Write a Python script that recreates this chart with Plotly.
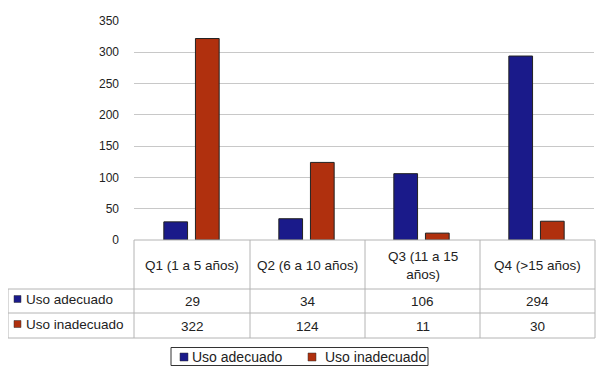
import plotly.graph_objects as go

categories = ["Q1", "Q2", "Q3", "Q4"]
header_labels = ["Q1 (1 a 5 años)", "Q2 (6 a 10 años)", "Q3 (11 a 15<br>años)", "Q4 (>15 años)"]
series_names = ["Uso adecuado", "Uso inadecuado"]
uso_adecuado = [29, 34, 106, 294]
uso_inadecuado = [322, 124, 11, 30]
y_ticks = [0, 50, 100, 150, 200, 250, 300, 350]

BLUE = "#1a1a8a"
RED = "#b0300e"
FONT = "Liberation Sans, Arial, sans-serif"

OFF = 8  # default body margin of the page
W, H = 608 - 2 * OFF, 375 - 2 * OFF
L, R, T, B = 134, 594, 21, 240  # plot area in reference pixels


def px(x):
    return (x - L) / (R - L)


def py(y):
    return (B - y) / (B - T)


fig = go.Figure()
for name, vals, col in [(series_names[0], uso_adecuado, BLUE), (series_names[1], uso_inadecuado, RED)]:
    fig.add_trace(go.Bar(x=categories, y=vals, name=name,
                         marker=dict(color=col, line=dict(color="#222222", width=1)),
                         showlegend=False))

shapes = []
annots = []
line = dict(color="#b4b4b4", width=1)
shapes.append(dict(type="line", xref="paper", yref="paper", x0=px(134), x1=px(595), y0=py(240), y1=py(240), line=line))
for yy in [289, 313, 338]:
    shapes.append(dict(type="line", xref="paper", yref="paper", x0=px(8), x1=px(595), y0=py(yy), y1=py(yy), line=line))
shapes.append(dict(type="line", xref="paper", yref="paper", x0=px(8), x1=px(8), y0=py(289), y1=py(338), line=line))
col_edges = [134, 250, 365, 480, 595]
for xx in col_edges:
    shapes.append(dict(type="line", xref="paper", yref="paper", x0=px(xx), x1=px(xx), y0=py(240), y1=py(338), line=line))

TFS = 13.5
for i, lab in enumerate(header_labels):
    cx = (col_edges[i] + col_edges[i + 1]) / 2
    annots.append(dict(x=px(cx), y=py(265), xref="paper", yref="paper", text=lab, showarrow=False,
                       font=dict(family=FONT, size=TFS, color="#222222"), xanchor="center", yanchor="middle"))
    for vals, yy in [(uso_adecuado, 301), (uso_inadecuado, 326)]:
        annots.append(dict(x=px(cx), y=py(yy), xref="paper", yref="paper", text=str(vals[i]), showarrow=False,
                           font=dict(family=FONT, size=TFS, color="#222222"), xanchor="center", yanchor="middle"))

for name, col, yy in [(series_names[0], BLUE, 299), (series_names[1], RED, 324)]:
    shapes.append(dict(type="rect", xref="paper", yref="paper", x0=px(14), x1=px(21), y0=py(yy - 3.5), y1=py(yy + 3.5),
                       fillcolor=col, line=dict(color="#333333", width=0.5)))
    annots.append(dict(x=px(24), y=py(yy), xref="paper", yref="paper", text=name, showarrow=False,
                       font=dict(family=FONT, size=TFS, color="#222222"), xanchor="left", yanchor="middle"))

shapes.append(dict(type="rect", xref="paper", yref="paper", x0=px(171), x1=px(428), y0=py(347.5), y1=py(365.5),
                   fillcolor="white", line=dict(color="#333333", width=1)))
for name, col, sx, tx in [(series_names[0], BLUE, 180, 190), (series_names[1], RED, 308, 323)]:
    shapes.append(dict(type="rect", xref="paper", yref="paper", x0=px(sx), x1=px(sx + 8), y0=py(353), y1=py(361),
                       fillcolor=col, line=dict(color="#333333", width=0.5)))
    annots.append(dict(x=px(tx), y=py(356.5), xref="paper", yref="paper", text=name, showarrow=False,
                       font=dict(family=FONT, size=14, color="#222222"), xanchor="left", yanchor="middle"))

fig.update_layout(
    width=W, height=H,
    margin=dict(l=L - OFF, r=608 - OFF - R, t=T - OFF, b=375 - OFF - B),
    paper_bgcolor="white", plot_bgcolor="white",
    barmode="group", bargap=0.45, bargroupgap=0.25,
    shapes=shapes, annotations=annots,
    font=dict(family=FONT, color="#222222"),
    xaxis=dict(showticklabels=False, showgrid=False, zeroline=False, showline=False,
               range=[-0.5, 3.5], fixedrange=True),
    yaxis=dict(range=[0, 350], tickvals=y_ticks, showgrid=True, gridcolor="#c8c8c8", gridwidth=1,
               zeroline=False, showline=False, ticks="", ticklabelstandoff=14,
               tickfont=dict(family=FONT, size=12, color="#222222"), fixedrange=True),
)

fig.write_html("out.html")
